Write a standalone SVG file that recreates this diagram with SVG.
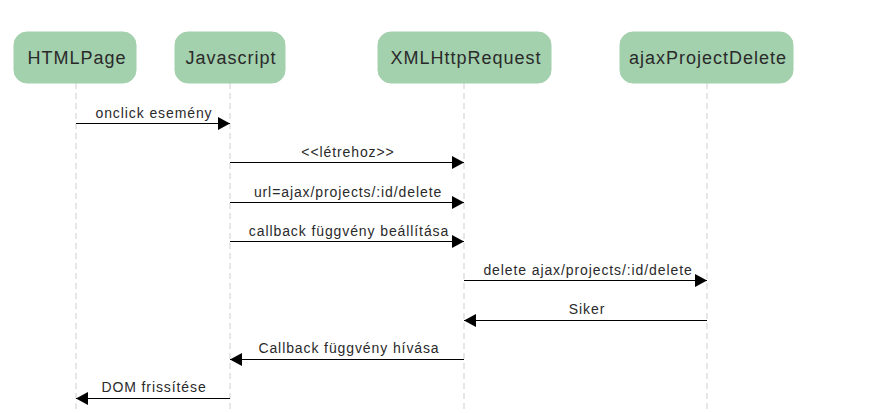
<svg xmlns="http://www.w3.org/2000/svg" width="871" height="413" viewBox="0 0 871 413">
<style>
.box{fill:#a3d0ad;stroke:#a3d0ad;stroke-width:1}
.nt{font-family:"Liberation Sans",Arial,sans-serif;font-size:18px;letter-spacing:1px;fill:#2a2a2a;text-anchor:middle}
.life{stroke:#cfcfcf;stroke-width:1;stroke-dasharray:6,4;fill:none}
.msg{stroke:#000;stroke-width:1;fill:none;marker-end:url(#ah)}
.ml{font-family:"Liberation Sans",Arial,sans-serif;font-size:14px;letter-spacing:0.9px;fill:#2a2a2a;text-anchor:middle}
</style>
<defs>
<marker id="ah" markerWidth="12" markerHeight="14" refX="12" refY="7" orient="auto" markerUnits="userSpaceOnUse">
<path d="M0,0.5 L12,7 L0,13.5 Z" fill="#000"/>
</marker>
</defs>
<rect width="871" height="413" fill="#fff"/>
<g id="lifelines">
<line class="life" x1="76" y1="83" x2="76" y2="413"/>
<line class="life" x1="230" y1="83" x2="230" y2="413"/>
<line class="life" x1="464" y1="83" x2="464" y2="413"/>
<line class="life" x1="707" y1="83" x2="707" y2="413"/>
</g>
<g id="HTMLPage"><rect class="box" x="14" y="32" width="122" height="51" rx="13"/><text class="nt" x="77" y="64">HTMLPage</text></g>
<g id="Javascript"><rect class="box" x="175" y="32" width="110" height="51" rx="13"/><text class="nt" x="231" y="64">Javascript</text></g>
<g id="XMLHttpRequest"><rect class="box" x="378" y="32" width="173" height="51" rx="13"/><text class="nt" x="466" y="64">XMLHttpRequest</text></g>
<g id="ajaxProjectDelete"><rect class="box" x="620" y="32" width="173" height="51" rx="13"/><text class="nt" x="708" y="64">ajaxProjectDelete</text></g>
<g id="connectors">
<line class="msg" x1="76" y1="123.5" x2="230" y2="123.5"/>
<text class="ml" x="154" y="118">onclick esemény</text>
<line class="msg" x1="230" y1="162.5" x2="464" y2="162.5"/>
<text class="ml" x="348" y="157">&lt;&lt;létrehoz&gt;&gt;</text>
<line class="msg" x1="230" y1="202.5" x2="464" y2="202.5"/>
<text class="ml" x="348" y="197">url=ajax/projects/:id/delete</text>
<line class="msg" x1="230" y1="241.5" x2="464" y2="241.5"/>
<text class="ml" x="349" y="236">callback függvény beállítása</text>
<line class="msg" x1="464" y1="280.5" x2="707" y2="280.5"/>
<text class="ml" x="588" y="275">delete ajax/projects/:id/delete</text>
<line class="msg" x1="707" y1="320.5" x2="464" y2="320.5"/>
<text class="ml" x="587" y="314">Siker</text>
<line class="msg" x1="464" y1="359.5" x2="230" y2="359.5"/>
<text class="ml" x="349" y="353">Callback függvény hívása</text>
<line class="msg" x1="230" y1="398.5" x2="76" y2="398.5"/>
<text class="ml" x="154" y="392">DOM frissítése</text>
</g>
</svg>
